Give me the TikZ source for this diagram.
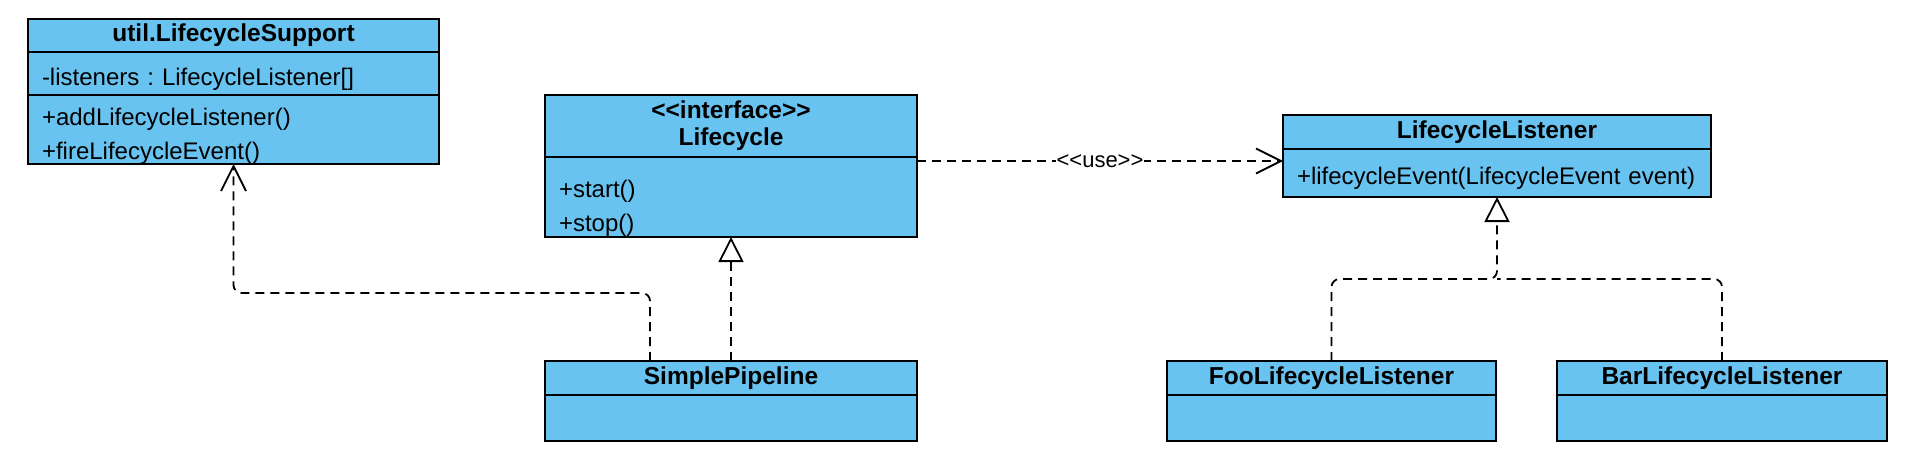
\documentclass[tikz,border=0pt]{standalone}
\usepackage{fontspec}
\setmainfont{Liberation Sans}
\usetikzlibrary{positioning,arrows.meta}
\definecolor{classblue}{HTML}{68C3F0}
\frenchspacing

\begin{document}
\begin{tikzpicture}[x=1pt,y=-1pt,
  classhead/.style={draw, fill=classblue, line width=2pt, outer sep=0pt, inner xsep=14pt, inner ysep=0pt, align=center, font=\fontsize{24.5}{27}\selectfont\bfseries},
  classbody/.style={draw, fill=classblue, line width=2pt, outer sep=0pt, inner xsep=14pt, inner ysep=0pt, align=left, font=\fontsize{24}{34}\selectfont},
  pushdown/.style={execute at begin node={\rule{0pt}{#1}}},
  dashline/.style={line width=1.8pt, dash pattern=on 9pt off 6pt},
  depend/.style={dashline, -{Straight Barb[length=25pt,width=25pt,line width=1.8pt]}},
  realize/.style={dashline, -{Triangle[open,length=25pt,width=25pt,line width=1.8pt]}}]
\useasboundingbox (0,0) rectangle (1918,460);

% Nodes
\node[classhead, text width=383pt, minimum height=33pt] (supporthead) at (233.5,35.5) {util.LifecycleSupport};
\node[classbody, text width=383pt, minimum height=43pt, below=0pt of supporthead, pushdown=29pt] (supportattr) {-listeners : LifecycleListener[]};
\node[classbody, text width=383pt, minimum height=69pt, below=0pt of supportattr, pushdown=30pt] (supportops) {+addLifecycleListener()\\+fireLifecycleEvent()};

\node[classhead, text width=344pt, minimum height=62pt] (lifecyclehead) at (731,126) {<{}<interface>{}>\\Lifecycle};
\node[classbody, text width=344pt, minimum height=80pt, below=0pt of lifecyclehead, pushdown=39pt] (lifecyclebody) {+start()\\+stop()};

\node[classhead, text width=400pt, minimum height=34pt] (listenerhead) at (1497,132) {LifecycleListener};
\node[classbody, text width=400pt, minimum height=48pt, below=0pt of listenerhead, pushdown=27pt] (listenerbody) {+lifecycleEvent(LifecycleEvent event)};

\node[classhead, text width=344pt, minimum height=34pt, below=124pt of lifecyclebody] (pipehead) {SimplePipeline};
\node[classbody, text width=344pt, minimum height=46pt, below=0pt of pipehead] (pipebody) {};

\node[classhead, text width=301pt, minimum height=34pt] (foohead) at (1331.5,378) {FooLifecycleListener};
\node[classbody, text width=301pt, minimum height=46pt, below=0pt of foohead] (foobody) {};
\node[classhead, text width=302pt, minimum height=34pt, right=61pt of foohead] (barhead) {BarLifecycleListener};
\node[classbody, text width=302pt, minimum height=46pt, below=0pt of barhead] (barbody) {};

\coordinate (usestart) at ([yshift=-4pt]lifecyclebody.north east);
\coordinate (listenerjoin) at ([yshift=-82pt]listenerbody.south);

% Edges
\draw[depend, rounded corners=8pt] ([xshift=-81pt]pipehead.north) -- ++(0,-68) -| (supportops.south);
\draw[realize] (pipehead) -- (lifecyclebody);
\draw[depend] (usestart) -- (usestart -| listenerbody.west)
  node[midway, fill=white, inner sep=1pt, font=\fontsize{22}{22}\selectfont] {<{}<use>{}>};
\draw[realize, rounded corners=8pt] (foohead.north) |- (listenerjoin) -- (listenerbody.south);
\draw[dashline, rounded corners=8pt] (barhead.north) |- (listenerjoin);
\end{tikzpicture}
\end{document}
